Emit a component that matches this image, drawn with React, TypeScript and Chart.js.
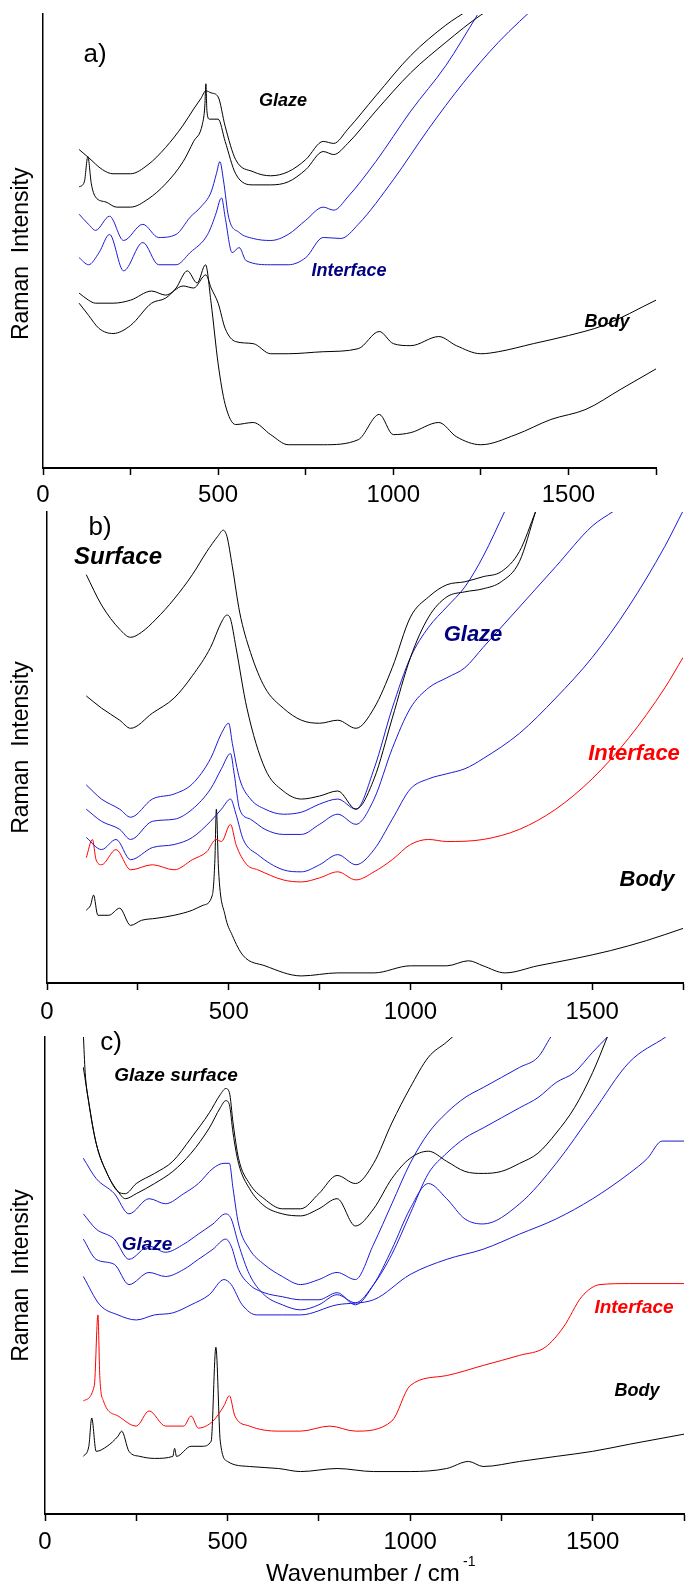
import React, { useEffect, useRef } from "react";
import { Chart, registerables } from "chart.js";

Chart.register(...registerables);

const FONT = "'Liberation Sans', Arial, Helvetica, sans-serif";
const BLACK = "#000000";
const BLUE = "#1a1ad6";
const NAVY = "#000080";
const RED = "#ff0000";

const X_MIN = 0;
const X_MAX = 1750;
const X_STEP = 250;
const X_LABELED = [0, 500, 1000, 1500];
const Y_TITLE = "Raman  Intensity";
const X_TITLE = "Wavenumber / cm";
const X_TITLE_SUP = "-1";

// ---------- panel a ----------
const aGlazeTopWn = [103,130,170,200,250,300,350,400,430,450,465,480,500,520,550,600,650,700,750,800,830,870,950,1050,1150,1215];
const aGlazeTopI = [315,307,295,291,291,300,317,339,355,365,373,371,367,338,305,293,289,293,305,323,321,335,368,408,438,453];
const aGlazeLowWn = [103,118,128,138,150,180,210,250,300,350,400,430,455,462,465,468,475,500,520,550,600,650,700,750,800,830,870,950,1050,1150,1250,1300];
const aGlazeLowI = [278,283,308,281,268,263,258,258,266,281,303,323,340,358,380,353,345,345,323,291,280,280,283,295,313,310,321,353,391,421,448,458];
const aIntUpWn = [103,130,150,190,230,285,330,380,420,450,480,495,505,515,530,560,600,650,700,750,800,830,870,950,1050,1150,1240];
const aIntUpI = [251,241,235,249,225,241,228,231,248,258,273,291,303,285,248,233,227,225,231,245,258,255,268,303,353,398,448];
const aIntLowWn = [103,130,160,190,230,285,330,380,420,470,495,505,510,520,540,560,580,650,700,750,800,850,900,1000,1100,1200,1300,1420];
const aIntLowI = [208,201,213,231,195,223,201,201,213,231,253,265,267,248,213,218,205,201,201,208,228,227,241,285,335,381,421,461];
const aBodyUpWn = [103,130,150,200,250,310,350,400,430,465,480,500,520,550,600,650,700,800,900,960,1000,1050,1130,1180,1250,1300,1400,1500,1600,1750];
const aBodyUpI = [173,166,163,163,166,175,171,180,178,191,178,163,138,125,123,113,113,115,118,135,123,121,130,121,113,115,123,131,141,166];
const aBodyLowWn = [103,130,160,200,250,310,350,380,412,440,464,480,500,520,550,600,650,700,800,900,960,1000,1050,1130,1180,1250,1350,1450,1550,1650,1750];
const aBodyLowI = [163,151,138,133,141,163,168,178,195,183,201,163,103,63,43,45,33,23,23,28,53,33,35,45,31,23,33,48,58,78,98];

// ---------- panel b ----------
const bSurf1Wn = [108,150,200,230,260,300,350,400,440,470,485,495,510,530,560,600,650,700,750,800,850,900,950,1000,1050,1100,1150,1200,1250,1300,1345];
const bSurf1I = [404,374,350,342,347,360,380,404,427,442,448,442,412,367,327,292,272,260,257,260,252,272,312,362,382,394,397,402,407,427,467];
const bSurf2Wn = [108,150,200,230,290,350,400,450,480,495,505,520,550,600,650,700,750,800,850,900,950,1000,1050,1100,1150,1200,1250,1300,1345];
const bSurf2I = [284,272,260,252,267,282,304,332,357,364,360,332,272,212,190,182,185,190,172,202,262,322,362,382,387,390,397,417,467];
const bGlaze1Wn = [108,150,200,230,290,350,400,450,480,500,510,530,560,600,650,700,750,800,850,900,950,1000,1050,1100,1150,1200,1260];
const bGlaze1I = [196,182,172,164,182,187,197,222,247,257,237,202,182,172,167,169,177,182,172,212,272,322,352,372,392,422,467];
const bGlaze2Wn = [108,150,200,230,290,350,400,450,480,505,515,530,560,600,650,700,750,800,850,900,950,1000,1050,1100,1150,1200,1300,1400,1500,1560];
const bGlaze2I = [172,160,152,142,160,162,172,192,212,227,207,172,162,152,147,147,157,167,157,182,232,272,292,302,312,332,372,412,452,467];
const bGlaze3Wn = [108,150,190,230,290,350,400,450,480,505,520,540,580,650,700,750,800,850,900,950,1000,1050,1100,1150,1200,1300,1400,1500,1600,1700,1750];
const bGlaze3I = [144,132,142,122,134,137,144,160,172,182,167,142,127,112,110,117,127,117,132,162,192,202,207,212,222,247,282,322,372,432,467];
const bIntWn = [108,125,135,150,190,230,290,350,400,440,465,480,505,520,550,580,650,700,750,800,850,900,950,1000,1050,1100,1200,1300,1400,1500,1600,1700,1750];
const bIntI = [124,142,122,117,132,112,117,112,122,130,142,140,157,137,117,112,102,100,104,110,102,110,122,137,142,140,142,152,172,202,242,292,322];
const bBodyWn = [108,120,128,140,170,200,230,260,300,350,400,430,455,462,466,472,490,510,540,600,700,800,900,1000,1100,1160,1200,1260,1350,1450,1550,1650,1750];
const bBodyI = [72,77,87,67,67,74,57,62,64,67,72,77,87,122,172,112,67,47,27,17,7,10,10,17,17,22,17,10,17,24,32,42,54];

// ---------- panel c ----------
const cSurf1Wn = [105,110,120,140,170,200,220,250,300,350,400,450,480,495,505,515,530,560,600,650,700,750,800,850,900,950,1000,1050,1100,1125];
const cSurf1I = [475,437,407,367,337,319,317,327,337,349,372,397,415,421,417,387,352,327,312,302,302,317,335,327,347,387,422,452,467,475];
const cSurf2Wn = [105,120,140,170,200,220,250,300,350,400,450,480,495,505,515,530,560,600,650,700,750,800,850,900,950,1000,1050,1100,1150,1200,1250,1300,1350,1400,1450,1500,1540];
const cSurf2I = [442,407,367,337,319,312,317,327,339,357,382,402,409,405,377,347,322,305,297,295,302,312,285,302,332,352,359,349,339,337,339,347,357,377,402,437,472];
const cGlaze1Wn = [105,140,190,230,285,330,380,420,460,490,505,515,530,560,600,650,700,750,800,850,900,950,1000,1050,1100,1150,1200,1250,1300,1350,1385];
const cGlaze1I = [352,332,317,297,312,307,317,327,342,347,347,322,287,262,247,235,227,232,239,232,267,307,347,377,397,412,422,432,442,452,472];
const cGlaze2Wn = [105,140,190,230,285,330,380,420,460,495,510,530,560,600,650,700,750,800,850,900,950,1000,1050,1100,1150,1200,1250,1300,1350,1400,1450,1500,1540];
const cGlaze2I = [297,282,272,252,265,259,267,277,287,297,292,267,237,217,207,202,207,217,209,227,257,297,337,357,372,382,392,402,412,427,437,457,472];
const cGlaze3Wn = [105,140,190,230,285,330,380,420,460,495,510,530,560,600,650,700,750,800,850,900,950,1000,1050,1100,1150,1200,1300,1400,1500,1600,1700];
const cGlaze3I = [272,252,247,227,239,235,242,252,262,272,265,242,227,219,215,212,212,219,207,227,262,302,327,312,292,287,307,347,397,447,472];
const cGlaze4Wn = [105,150,200,250,300,350,400,450,490,510,540,580,650,700,800,900,1000,1100,1200,1300,1400,1500,1600,1650,1690,1750];
const cGlaze4I = [235,207,197,192,197,199,207,217,232,227,207,197,197,197,207,212,237,252,262,277,292,312,337,352,369,369];
const cIntWn = [105,135,145,150,160,200,250,285,330,380,400,420,460,490,505,520,560,640,700,780,850,950,1000,1100,1200,1300,1370,1420,1470,1520,1600,1750];
const cIntI = [112,127,197,137,112,97,87,102,87,87,97,85,92,107,117,97,87,82,82,87,82,92,127,137,147,157,165,185,215,227,228,228];
const cBodyWn = [105,120,128,140,170,200,210,230,260,300,350,355,360,400,430,455,468,480,500,560,640,700,800,900,1000,1100,1160,1200,1300,1400,1500,1600,1750];
const cBodyI = [57,67,95,62,67,77,82,62,57,55,57,65,57,67,67,72,165,72,52,47,45,42,45,42,42,45,52,47,52,57,62,69,79];

type Series = { wn: number[]; val: number[]; color: string };
type TextItem = { text: string; x: number; y: number; font: string; color: string; align?: CanvasTextAlign };

interface PanelSpec {
  top: number;
  height: number;
  padTop: number;
  padRight: number;
  yAxisWidth: number;
  xAxisHeight: number;
  yMax: number;
  tickPad: number;
  yTitle: string;
  series: Series[];
  texts: TextItem[];
}

const bi = (s: number) => `italic bold ${s}px ${FONT}`;
const rg = (s: number) => `${s}px ${FONT}`;

const panels: PanelSpec[] = [
  {
    top: 0, height: 505, padTop: 14, padRight: 37, yAxisWidth: 43, xAxisHeight: 37, yMax: 449, tickPad: 8,
    yTitle: Y_TITLE + "    ",
    series: [
      { wn: aGlazeTopWn, val: aGlazeTopI, color: BLACK },
      { wn: aGlazeLowWn, val: aGlazeLowI, color: BLACK },
      { wn: aIntUpWn, val: aIntUpI, color: BLUE },
      { wn: aIntLowWn, val: aIntLowI, color: BLUE },
      { wn: aBodyUpWn, val: aBodyUpI, color: BLACK },
      { wn: aBodyLowWn, val: aBodyLowI, color: BLACK },
    ],
    texts: [
      { text: "a)", x: 95, y: 55, font: rg(26), color: BLACK },
      { text: "Glaze", x: 283, y: 101, font: bi(18), color: BLACK },
      { text: "Interface", x: 349, y: 271, font: bi(18), color: NAVY },
      { text: "Body", x: 607, y: 322, font: bi(18), color: BLACK },
    ],
  },
  {
    top: 505, height: 525, padTop: 7, padRight: 9, yAxisWidth: 47, xAxisHeight: 47, yMax: 466, tickPad: 10,
    yTitle: Y_TITLE,
    series: [
      { wn: bSurf1Wn, val: bSurf1I, color: BLACK },
      { wn: bSurf2Wn, val: bSurf2I, color: BLACK },
      { wn: bGlaze1Wn, val: bGlaze1I, color: BLUE },
      { wn: bGlaze2Wn, val: bGlaze2I, color: BLUE },
      { wn: bGlaze3Wn, val: bGlaze3I, color: BLUE },
      { wn: bIntWn, val: bIntI, color: RED },
      { wn: bBodyWn, val: bBodyI, color: BLACK },
    ],
    texts: [
      { text: "b)", x: 100, y: 528, font: rg(26), color: BLACK },
      { text: "Surface", x: 118, y: 557, font: bi(24), color: BLACK },
      { text: "Glaze", x: 473, y: 635, font: bi(22), color: NAVY },
      { text: "Interface", x: 634, y: 754, font: bi(22), color: RED },
      { text: "Body", x: 647, y: 880, font: bi(22), color: BLACK },
    ],
  },
  {
    top: 1030, height: 556, padTop: 7, padRight: 3, yAxisWidth: 45, xAxisHeight: 72, yMax: 472, tickPad: 9,
    yTitle: Y_TITLE,
    series: [
      { wn: cSurf1Wn, val: cSurf1I, color: BLACK },
      { wn: cSurf2Wn, val: cSurf2I, color: BLACK },
      { wn: cGlaze1Wn, val: cGlaze1I, color: BLUE },
      { wn: cGlaze2Wn, val: cGlaze2I, color: BLUE },
      { wn: cGlaze3Wn, val: cGlaze3I, color: BLUE },
      { wn: cGlaze4Wn, val: cGlaze4I, color: BLUE },
      { wn: cIntWn, val: cIntI, color: RED },
      { wn: cBodyWn, val: cBodyI, color: BLACK },
    ],
    texts: [
      { text: "c)", x: 111, y: 1043, font: rg(26), color: BLACK },
      { text: "Glaze surface", x: 176, y: 1076, font: bi(19), color: BLACK },
      { text: "Glaze", x: 147, y: 1245, font: bi(19), color: NAVY },
      { text: "Interface", x: 634, y: 1308, font: bi(19), color: RED },
      { text: "Body", x: 637, y: 1391, font: bi(18), color: BLACK },
      { text: X_TITLE, x: 266, y: 1574, font: rg(24), color: BLACK, align: "left" },
      { text: X_TITLE_SUP, x: 463, y: 1562, font: rg(14), color: BLACK, align: "left" },
    ],
  },
];

const textPlugin = {
  id: "panelText",
  afterDraw(chart: any, _args: any, opts: any) {
    const ctx = chart.ctx as CanvasRenderingContext2D;
    const items: TextItem[] = opts.items || [];
    const offset: number = opts.offset || 0;
    for (const t of items) {
      ctx.save();
      ctx.font = t.font;
      ctx.fillStyle = t.color;
      ctx.textAlign = t.align || "center";
      ctx.textBaseline = "middle";
      ctx.fillText(t.text, t.x, t.y - offset);
      ctx.restore();
    }
  },
};

function Panel({ spec }: { spec: PanelSpec }) {
  const ref = useRef<HTMLCanvasElement>(null);
  useEffect(() => {
    if (!ref.current) return;
    const chart = new Chart(ref.current, {
      type: "line",
      data: {
        datasets: spec.series.map((s) => ({
          data: s.wn.map((x, i) => ({ x, y: s.val[i] })),
          borderColor: s.color,
          borderWidth: 1,
          pointRadius: 0,
          fill: false,
          cubicInterpolationMode: "monotone" as const,
        })),
      },
      options: {
        animation: false,
        responsive: false,
        devicePixelRatio: 1,
        layout: { padding: { top: spec.padTop, right: spec.padRight, left: 0, bottom: 0 } },
        plugins: {
          legend: { display: false },
          tooltip: { enabled: false },
          panelText: { items: spec.texts, offset: spec.top },
        } as any,
        scales: {
          x: {
            type: "linear",
            min: X_MIN,
            max: X_MAX,
            afterFit: (scale: any) => { scale.height = spec.xAxisHeight; },
            border: { display: true, color: BLACK, width: 2 },
            grid: { display: true, drawOnChartArea: false, drawTicks: true, tickLength: 7, color: BLACK, tickColor: BLACK, tickWidth: 1.5 },
            ticks: {
              stepSize: X_STEP,
              autoSkip: false,
              maxRotation: 0,
              padding: spec.tickPad,
              color: BLACK,
              font: { family: FONT, size: 24, lineHeight: 1 },
              callback: (v: any) => (X_LABELED.includes(Number(v)) ? String(v) : ""),
            },
          },
          y: {
            type: "linear",
            min: 0,
            max: spec.yMax,
            afterFit: (scale: any) => { scale.width = spec.yAxisWidth; },
            border: { display: true, color: BLACK, width: 1.5 },
            grid: { display: false },
            ticks: { display: false },
            title: {
              display: true,
              text: spec.yTitle,
              color: BLACK,
              font: { family: FONT, size: 23, lineHeight: 1 },
              padding: { top: 10, bottom: 0 },
            },
          },
        },
      },
      plugins: [textPlugin],
    });
    return () => chart.destroy();
  }, [spec]);
  return (
    <canvas
      ref={ref}
      width={693}
      height={spec.height}
      style={{ position: "absolute", left: 0, top: spec.top, width: 693, height: spec.height }}
    />
  );
}

export default function App() {
  return (
    <div style={{ position: "absolute", left: 0, top: 0, width: 693, height: 1586, background: "#ffffff" }}>
      {panels.map((p, i) => (
        <Panel key={i} spec={p} />
      ))}
    </div>
  );
}
